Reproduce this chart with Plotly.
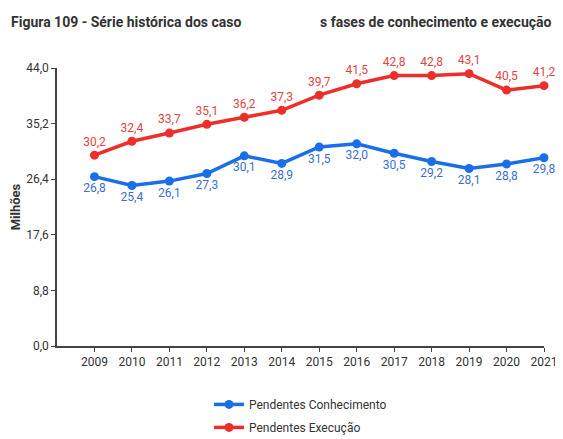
import plotly.graph_objects as go

years = [2009, 2010, 2011, 2012, 2013, 2014, 2015, 2016, 2017, 2018, 2019, 2020, 2021]
conhecimento = [26.8, 25.4, 26.1, 27.3, 30.1, 28.9, 31.5, 32.0, 30.5, 29.2, 28.1, 28.8, 29.8]
execucao = [30.2, 32.4, 33.7, 35.1, 36.2, 37.3, 39.7, 41.5, 42.8, 42.8, 43.1, 40.5, 41.2]
y_ticks = [0.0, 8.8, 17.6, 26.4, 35.2, 44.0]

BLUE = "#1a6fe8"
RED = "#ec2f2a"
FONT = "Roboto, Liberation Sans, sans-serif"

fig = go.Figure()
fig.add_trace(go.Scatter(
    x=years, y=conhecimento, name="Pendentes Conhecimento",
    mode="lines+markers+text", legendgroup="a",
    text=[f"{v:.1f}".replace(".", ",") for v in conhecimento],
    textposition="bottom center", cliponaxis=False,
    textfont=dict(color="#3a6fd0", size=12, family=FONT),
    line=dict(color=BLUE, width=3.5),
    marker=dict(size=9, color=BLUE),
))
fig.add_trace(go.Scatter(
    x=years, y=execucao, name="Pendentes Execução",
    mode="lines+markers+text", legendgroup="b",
    text=[f"{v:.1f}".replace(".", ",") for v in execucao],
    textposition="top center", cliponaxis=False,
    textfont=dict(color="#e04545", size=12, family=FONT),
    line=dict(color=RED, width=3.5),
    marker=dict(size=9, color=RED),
))

# title (the gap in the original image is kept)
fig.add_annotation(text="<b>Figura 109 - Série histórica dos caso</b>", x=-0.0986, y=1.165,
                   xref="paper", yref="paper", showarrow=False, xanchor="left", yanchor="middle",
                   font=dict(size=14, color="#333333", family=FONT))
fig.add_annotation(text="<b>s fases de conhecimento e execução</b>", x=1.02, y=1.165,
                   xref="paper", yref="paper", showarrow=False, xanchor="right", yanchor="middle",
                   font=dict(size=14, color="#333333", family=FONT))

# the page body has an 8px margin, so the figure is sized to fit the visible area
fig.update_layout(
    width=547, height=431,
    margin=dict(l=49, r=11, t=60, b=93, autoexpand=False),
    paper_bgcolor="white", plot_bgcolor="white",
    separators=",.",
    font=dict(family=FONT, color="#333333", size=12),
    showlegend=True,
    legend=dict(orientation="v", x=0.5, xanchor="center", y=-0.158, yanchor="top",
                traceorder="grouped", tracegroupgap=4,
                font=dict(size=12, color="#333333", family=FONT)),
    xaxis=dict(range=[2008, 2021], tickvals=years, ticks="outside", ticklen=4,
               showgrid=False, zeroline=False, showline=True, linecolor="#444444",
               linewidth=1.5, tickcolor="#444444", tickfont=dict(size=12),
               ticklabeloverflow="allow"),
    yaxis=dict(range=[0, 44], tickvals=y_ticks, tickformat=".1f", ticks="outside",
               ticklen=4, showgrid=False, zeroline=False, showline=True,
               linecolor="#444444", linewidth=1.5, tickcolor="#444444",
               tickfont=dict(size=12),
               title=dict(text="<b>Milhões</b>", font=dict(size=13, family=FONT), standoff=14)),
)

fig.write_html("out.html")
